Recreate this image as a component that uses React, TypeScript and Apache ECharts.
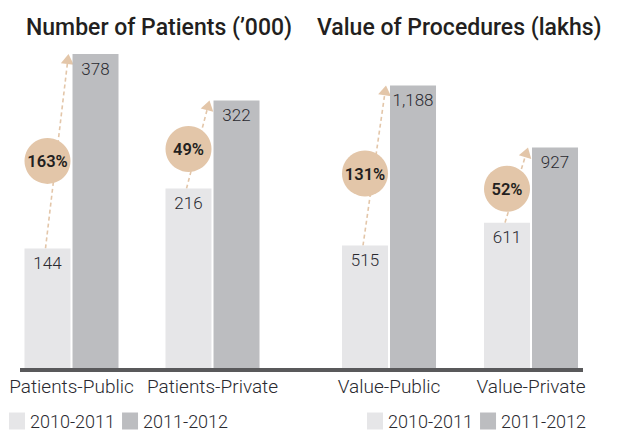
import { useEffect, useRef } from "react";
import * as echarts from "echarts";

const titles = ["Number of Patients (’000)", "Value of Procedures (lakhs)"];
const seriesNames = ["2010-2011", "2011-2012"];
const patientCategories = ["Patients-Public", "Patients-Private"];
const patients2010 = [144, 216];
const patients2011 = [378, 322];
const patientGrowth = ["163%", "49%"];
const valueCategories = ["Value-Public", "Value-Private"];
const value2010 = [515, 611];
const value2011 = [1188, 927];
const valueGrowth = ["131%", "52%"];

const FONT = "Roboto, 'DejaVu Sans', sans-serif";
const C_LIGHT = "#e6e6e8";
const C_DARK = "#bcbdc0";
const C_PEACH = "#e3c6a9";
const C_TEXT = "#2a2a30";
const BAR_W = 46;

function arrowSeries(v10: number[], v11: number[], growth: string[], idx: number) {
  return {
    type: "custom",
    xAxisIndex: idx,
    yAxisIndex: idx,
    z: 1,
    silent: true,
    clip: false,
    data: v10.map((v, i) => [i, v, v11[i]]),
    encode: { x: 0, y: [1, 2] },
    renderItem: (params: any, api: any) => {
      const i = api.value(0);
      const p1 = api.coord([i, api.value(1)]);
      const p2 = api.coord([i, api.value(2)]);
      const c = p1[0];
      const sx = c - BAR_W / 2 - 3;
      const sy = p1[1];
      const tx = c - 3;
      const ty = p2[1];
      const dx = tx - sx;
      const dy = ty - sy;
      const len = Math.sqrt(dx * dx + dy * dy);
      const ux = dx / len;
      const uy = dy / len;
      const bx = tx - ux * 10;
      const by = ty - uy * 10;
      const nx = -uy;
      const ny = ux;
      const ccx = c - BAR_W / 2 - 1;
      const ccy = sy + (ty - sy) * 0.45;
      return {
        type: "group",
        children: [
          {
            type: "line",
            shape: { x1: sx, y1: sy, x2: bx, y2: by },
            style: { stroke: C_PEACH, lineWidth: 1.6, lineDash: [4, 3] },
          },
          {
            type: "polygon",
            shape: {
              points: [
                [tx, ty],
                [bx + nx * 6.5, by + ny * 6.5],
                [bx - nx * 6.5, by - ny * 6.5],
              ],
            },
            style: { fill: C_PEACH },
          },
          {
            type: "circle",
            shape: { cx: ccx, cy: ccy, r: 23 },
            style: { fill: C_PEACH },
          },
          {
            type: "text",
            x: ccx,
            y: ccy + 1,
            style: {
              text: growth[params.dataIndex],
              align: "center",
              verticalAlign: "middle",
              fontSize: 16.5,
              fontWeight: 600,
              fontFamily: FONT,
              fill: "#231f20",
            },
          },
        ],
      };
    },
  };
}

function barSeries(name: string, data: number[], color: string, idx: number) {
  return {
    type: "bar",
    name,
    xAxisIndex: idx,
    yAxisIndex: idx,
    data,
    barWidth: BAR_W,
    barGap: "4.4%",
    z: 2,
    itemStyle: { color },
    label: {
      show: true,
      position: "insideTop",
      distance: 6,
      fontSize: 17,
      fontWeight: 300,
      fontFamily: FONT,
      color: C_TEXT,
      formatter: (p: any) => Number(p.value).toLocaleString("en-US"),
    },
  };
}

const legendBase = {
  top: 412,
  padding: 0,
  data: seriesNames,
  icon: "rect",
  itemWidth: 16,
  itemHeight: 17,
  itemGap: 7,
  selectedMode: false,
  textStyle: { fontSize: 18, fontWeight: 300, color: C_TEXT, fontFamily: FONT },
};

export default function App() {
  const ref = useRef<HTMLDivElement>(null);
  useEffect(() => {
    if (!ref.current) return;
    const chart = echarts.init(ref.current, null, { renderer: "svg" });
    const xAxisBase = {
      type: "category",
      axisLine: { show: false },
      axisTick: { show: false },
      axisLabel: {
        interval: 0,
        fontSize: 19,
        fontWeight: 300,
        color: C_TEXT,
        fontFamily: FONT,
        margin: 9,
      },
    };
    const yAxisBase = {
      type: "value",
      min: 0,
      show: false,
      splitLine: { show: false },
    };
    chart.setOption({
      animation: false,
      textStyle: { fontFamily: FONT },
      title: [
        {
          text: titles[0],
          left: 21,
          top: 11,
          textStyle: { fontSize: 23, fontWeight: 500, color: "#231f20", fontFamily: FONT },
        },
        {
          text: titles[1],
          left: 312,
          top: 11,
          textStyle: { fontSize: 23, fontWeight: 500, color: "#231f20", fontFamily: FONT },
        },
      ],
      legend: [
        { ...legendBase, left: 9 },
        { ...legendBase, left: 367 },
      ],
      grid: [
        { left: 1, width: 282, top: 54, bottom: 79 },
        { left: 318, width: 284, top: 54, bottom: 79 },
      ],
      xAxis: [
        { ...xAxisBase, gridIndex: 0, data: patientCategories },
        { ...xAxisBase, gridIndex: 1, data: valueCategories },
      ],
      yAxis: [
        { ...yAxisBase, gridIndex: 0, max: 378 },
        { ...yAxisBase, gridIndex: 1, max: 1320 },
      ],
      graphic: [
        {
          type: "line",
          shape: { x1: 20, y1: 370, x2: 583, y2: 370 },
          style: { stroke: "#59595b", lineWidth: 4 },
          z: 10,
        },
      ],
      series: [
        barSeries(seriesNames[0], patients2010, C_LIGHT, 0),
        barSeries(seriesNames[1], patients2011, C_DARK, 0),
        barSeries(seriesNames[0], value2010, C_LIGHT, 1),
        barSeries(seriesNames[1], value2011, C_DARK, 1),
        arrowSeries(patients2010, patients2011, patientGrowth, 0),
        arrowSeries(value2010, value2011, valueGrowth, 1),
      ],
    });
    return () => chart.dispose();
  }, []);
  return (
    <div
      ref={ref}
      style={{ position: "absolute", left: 0, top: 0, width: 622, height: 447 }}
    />
  );
}
